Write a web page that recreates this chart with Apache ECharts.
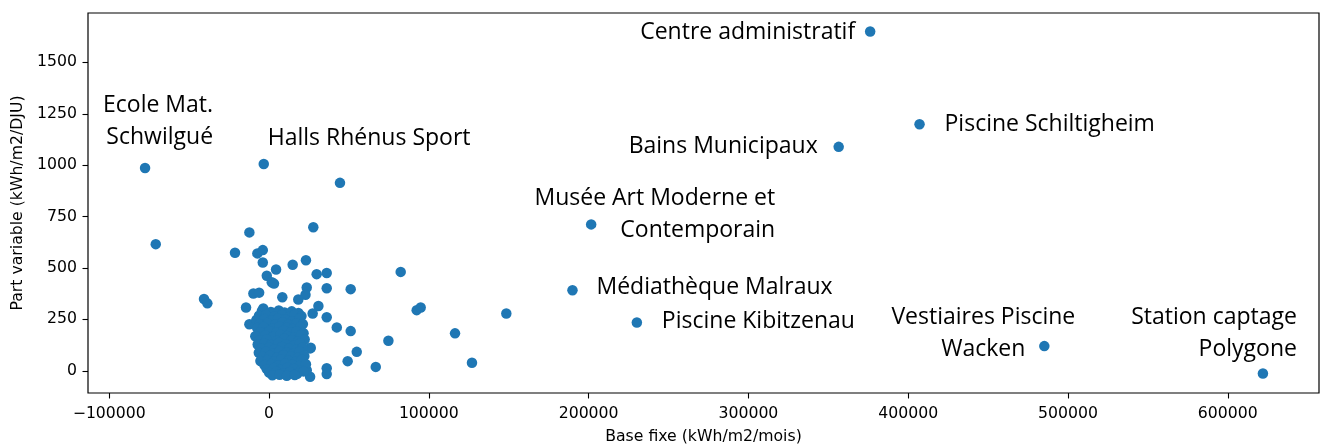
<!DOCTYPE html>
<html>
<head>
<meta charset="utf-8">
<script src="https://cdn.jsdelivr.net/npm/echarts@6/dist/echarts.min.js"></script>
<style>
html,body{margin:0;padding:0;background:#fff;}
#chart{width:1323px;height:448px;}
</style>
</head>
<body>
<div id="chart"></div>
<script>
// batiments annotes
var namedLabels = ['Ecole Mat.\nSchwilgué', 'Halls Rhénus Sport', 'Centre administratif', 'Piscine Schiltigheim',
    'Bains Municipaux', 'Musée Art Moderne et\nContemporain', 'Médiathèque Malraux', 'Piscine Kibitzenau',
    'Vestiaires Piscine\nWacken', 'Station captage\nPolygone'];
var namedX = [-77600, -3300, 376200, 407100, 356500, 201600, 189900, 230200, 485200, 622000];
var namedY = [986, 1006, 1650, 1199, 1089, 712, 392, 235, 120, -13];

// autres batiments [base fixe, part variable]
var otherPoints = [
    [-70900, 616], [-40700, 349], [-38600, 328], [44400, 914], [27700, 698], [-12300, 673],
    [-21300, 574], [-7300, 571], [-3900, 587], [-3900, 527], [23100, 538], [14800, 516],
    [4400, 493], [-1400, 462], [1700, 431], [3100, 424], [29800, 470], [36100, 476],
    [82400, 481], [23600, 405], [22800, 370], [36100, 401], [51100, 397], [8300, 358],
    [18300, 347], [-9800, 376], [-6200, 380], [-14400, 308], [-3600, 303], [30900, 315],
    [27300, 279], [92400, 295], [94900, 308], [36100, 260], [42400, 211], [51100, 193],
    [116400, 182], [-12300, 226], [74700, 146], [26100, 112], [54900, 92], [49200, 47],
    [66800, 19], [127000, 39], [36100, 12], [36100, -16], [25700, -29], [23600, 3],
    [148500, 279], [-7700, 247], [-4600, 263], [25700, 109],
    // amas central
    [-4500, 291], [1200, 286], [6100, 293], [9700, 284], [14200, 289], [18400, 281],
    [-6300, 268], [-1800, 273], [3600, 265], [8200, 271], [12600, 262], [16100, 274], [20300, 266],
    [-7900, 247], [-2900, 252], [1400, 244], [5700, 255], [10200, 248], [14600, 241], [19100, 253],
    [-5800, 228], [-900, 233], [4100, 226], [8600, 236], [12100, 224], [17400, 231], [21200, 227],
    [-7400, 208], [-3400, 213], [2100, 205], [6600, 216], [11200, 209], [15100, 203], [19700, 214],
    [-5400, 188], [100, 193], [4600, 185], [9100, 196], [13600, 187], [17200, 191], [21600, 183],
    [-8600, 168], [-2400, 173], [2600, 165], [7100, 176], [11600, 169], [16200, 163], [20100, 174],
    [-6100, 148], [-1400, 153], [5100, 145], [9600, 156], [14100, 149], [18200, 143], [22300, 152],
    [-7100, 128], [-2900, 133], [1100, 126], [6200, 136], [10600, 129], [15600, 123], [19400, 134],
    [-4900, 108], [200, 113], [3600, 105], [8100, 116], [12600, 109], [17100, 103], [21100, 114],
    [-6400, 88], [-1900, 93], [2600, 85], [6600, 96], [11100, 89], [15100, 83], [19100, 94],
    [-3900, 68], [600, 73], [5100, 65], [9100, 76], [13600, 69], [18100, 63], [22100, 72],
    [-5400, 48], [-900, 53], [3100, 45], [7600, 56], [12100, 49], [16600, 43], [20600, 54],
    [-2900, 28], [1600, 33], [5600, 25], [10100, 36], [14600, 29], [19100, 23], [23100, 32],
    [-1400, 8], [3100, 13], [7100, 5], [11600, 16], [15600, 9], [20100, 3],
    [100, -9], [4600, -4], [9100, -12], [13100, -6], [17600, -14], [21600, -3],
    [2100, -22], [6600, -19], [11100, -24], [16100, -21]
];

var xTicks = [-100000, 0, 100000, 200000, 300000, 400000, 500000, 600000];
var yTicks = [0, 250, 500, 750, 1000, 1250, 1500];

// placement des etiquettes (decalage en px depuis le point)
var labelLayout = [
    {offset: [68, -47], align: 'right'},
    {offset: [4, -25], align: 'left'},
    {offset: [-15, 1], align: 'right'},
    {offset: [25, 0], align: 'left'},
    {offset: [-21, 0], align: 'right'},
    {offset: [184, -10], align: 'right'},
    {offset: [24, -3], align: 'left'},
    {offset: [25, -1], align: 'left'},
    {offset: [-61, -13], align: 'center'},
    {offset: [34, -40], align: 'right'}
];

var blue = '#1f77b4';
var tickFont = 'DejaVu Sans';

function fmt(v) {
    return v < 0 ? '\u2212' + Math.abs(v) : String(v);
}

var chart = echarts.init(document.getElementById('chart'), null, {renderer: 'canvas'});

var allData = otherPoints.map(function (p) { return {value: p}; });
namedLabels.forEach(function (name, i) {
    allData.push({
        value: [namedX[i], namedY[i]],
        name: name,
        label: {
            show: true,
            position: 'inside',
            offset: labelLayout[i].offset,
            align: labelLayout[i].align,
            verticalAlign: 'middle',
            formatter: '{b}',
            color: '#000',
            fontFamily: 'Open Sans',
            fontSize: 23,
            lineHeight: 32
        }
    });
});

var option = {
    backgroundColor: '#fff',
    animation: false,
    grid: {
        left: 88, right: 4, top: 13, bottom: 55,
        outerBoundsMode: 'none',
        show: true, borderColor: '#000', borderWidth: 1.2
    },
    xAxis: {
        type: 'value',
        min: -113300,
        max: 657100,
        name: 'Base fixe (kWh/m2/mois)',
        nameLocation: 'middle',
        nameGap: 36,
        nameTextStyle: {color: '#000', fontFamily: tickFont, fontSize: 15.7},
        axisLine: {show: false, onZero: false},
        splitLine: {show: false},
        axisTick: {show: true, length: 5.5, customValues: xTicks, lineStyle: {color: '#000', width: 1.1}},
        axisLabel: {customValues: xTicks, formatter: fmt, margin: 13, color: '#000', fontFamily: tickFont, fontSize: 15.7}
    },
    yAxis: {
        type: 'value',
        min: -108,
        max: 1740,
        name: 'Part variable (kWh/m2/DJU)',
        nameLocation: 'middle',
        nameGap: 62,
        nameTextStyle: {color: '#000', fontFamily: tickFont, fontSize: 15.7},
        axisLine: {show: false, onZero: false},
        splitLine: {show: false},
        axisTick: {show: true, length: 5.5, customValues: yTicks, lineStyle: {color: '#000', width: 1.1}},
        axisLabel: {customValues: yTicks, formatter: fmt, margin: 11, color: '#000', fontFamily: tickFont, fontSize: 15.7}
    },
    series: [{
        type: 'scatter',
        symbolSize: 10.5,
        itemStyle: {color: blue, opacity: 1},
        label: {show: false},
        data: allData
    }]
};
chart.setOption(option);
</script>
</body>
</html>
